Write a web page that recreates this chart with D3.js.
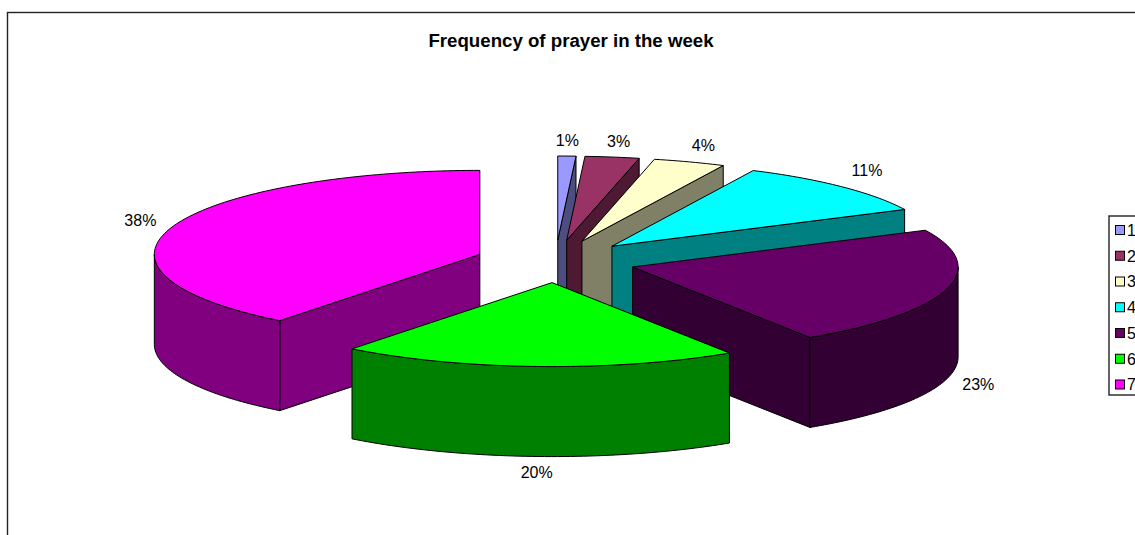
<!DOCTYPE html>
<html><head><meta charset="utf-8">
<script src="https://cdn.jsdelivr.net/npm/d3@7/dist/d3.min.js"></script>
<style>
html,body{margin:0;padding:0;background:#fff;overflow:hidden}
svg{display:block}
text{font-family:"Liberation Sans",Arial,sans-serif;fill:#000}
</style></head><body>
<div id="chart"></div>
<script>
const chartTitle = "Frequency of prayer in the week";
const categories = ["1","2","3","4","5","6","7"];
const percentValues = [1,3,4,11,23,20,38];
const topColors  = ["#9999FF","#993366","#FFFFCC","#00FFFF","#660066","#00FF00","#FF00FF"];
const sideColors = ["#4D4D80","#4D1933","#808066","#008080","#330033","#008000","#800080"];

const W = 1135, H = 535;
const cx = 555.5, cy = 261.3, rx = 325.5, ry = 84, depth = 90;
const explodeX = 80, explodeY = 21.3;
// Foreshortening of the tilted 3D pie: angles on the ellipse lag the true share slightly.
const lagDeg = d3.scaleLinear().domain([0,30,70,150,225,360]).range([0,3.2,4.4,4.2,5.3,0]);
const warp = a => { const deg = a * 180 / Math.PI; return (deg - lagDeg(deg)) * Math.PI / 180; };

const svg = d3.select("#chart").append("svg").attr("width", W).attr("height", H);

// chart area frame (runs off the right and bottom of the page)
svg.append("rect").attr("x", 7.5).attr("y", 12.5).attr("width", W + 50).attr("height", H + 50)
  .attr("fill", "#fff").attr("stroke", "#222").attr("stroke-width", 1.4);

svg.append("text").attr("x", 571).attr("y", 47).attr("text-anchor", "middle")
  .attr("font-size", 18.67).attr("font-weight", "bold").text(chartTitle);

const pie = d3.pie().sort(null).startAngle(0).endAngle(2 * Math.PI);
const arcs = pie(percentValues).map((d, i) => {
  const a0 = warp(d.startAngle), a1 = warp(d.endAngle), mid = (a0 + a1) / 2;
  return {i, a0, a1, mid,
    ax: cx + explodeX * Math.sin(mid),
    ay: cy - explodeY * Math.cos(mid)};
});
const rim = (s, a, dz = 0) => [s.ax + rx * Math.sin(a), s.ay - ry * Math.cos(a) + dz];
const sweep = (s, from, to, dz = 0) => {
  const n = Math.max(2, Math.ceil(Math.abs(to - from) / 0.02));
  return d3.range(n + 1).map(k => rim(s, from + (to - from) * k / n, dz));
};
const path = d3.line();
const poly = pts => path(pts) + "Z";
const face = (g, pts, fill) => g.append("path").attr("d", poly(pts)).attr("fill", fill)
  .attr("stroke", "#000").attr("stroke-width", 1).attr("stroke-linejoin", "round");

// painter's order: back slices, then the sides, then the front slice
const order = [0, 1, 2, 3, 4, 6, 5];
const pieG = svg.append("g");
order.forEach(idx => {
  const s = arcs[idx], g = pieG.append("g"), side = sideColors[idx];
  const apex = [s.ax, s.ay], apexLow = [s.ax, s.ay + depth];
  if (Math.sin(s.a0) < 0) {
    face(g, [apex, rim(s, s.a0), rim(s, s.a0, depth), apexLow], side);
  }
  if (Math.sin(s.a1) > 0) {
    face(g, [apex, rim(s, s.a1), rim(s, s.a1, depth), apexLow], side);
  }
  const from = Math.max(s.a0, Math.PI / 2), to = Math.min(s.a1, 3 * Math.PI / 2);
  if (to > from) {
    face(g, sweep(s, from, to).concat(sweep(s, to, from, depth)), side);
  }
  face(g, [apex].concat(sweep(s, s.a0, s.a1)), topColors[idx]);
});

// data labels sit just outside each slice's rim
arcs.forEach(s => {
  const front = Math.cos(s.mid) < 0;
  const [px, py] = rim(s, s.mid, front ? depth : 0);
  const sn = Math.sin(s.mid), c2 = Math.sin(2 * s.mid);
  const push = 33 * Math.max(0, Math.pow(Math.abs(sn), 0.7) - 0.07) / 0.93;
  svg.append("text")
    .attr("x", px + Math.sign(sn) * push)
    .attr("y", py - 16 * Math.cos(s.mid) - (front ? 0 : 5 * c2 * c2))
    .attr("dy", "0.36em").attr("text-anchor", "middle").attr("font-size", 16)
    .text(percentValues[s.i] + "%");
});

// legend
const legendY = d3.scalePoint().domain(categories).range([230, 384.5]);
const legend = svg.append("g");
legend.append("rect").attr("x", 1109).attr("y", 216).attr("width", 60).attr("height", 179)
  .attr("fill", "#fff").attr("stroke", "#222").attr("stroke-width", 1.4);
categories.forEach((c, i) => {
  legend.append("rect").attr("x", 1115.5).attr("y", legendY(c) - 4.5).attr("width", 9).attr("height", 9)
    .attr("fill", topColors[i]).attr("stroke", "#000");
  legend.append("text").attr("x", 1127).attr("y", legendY(c)).attr("dy", "0.36em")
    .attr("font-size", 16).text(c);
});
</script>
</body></html>
